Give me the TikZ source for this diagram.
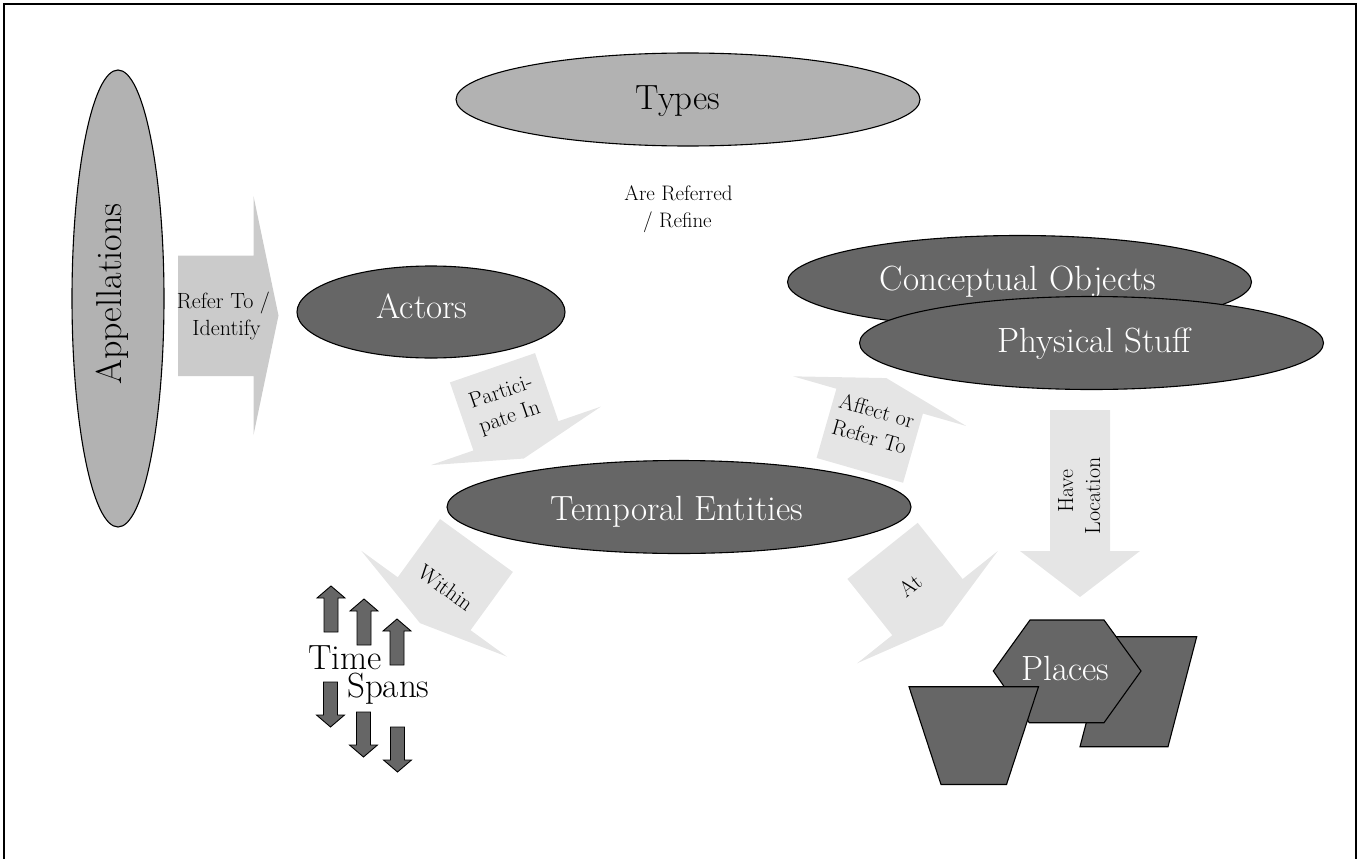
\documentclass[tikz,border=0pt]{standalone}
\usepackage{fontspec}
\usetikzlibrary{shapes.geometric}

\definecolor{lightnode}{HTML}{B2B2B2}
\definecolor{darknode}{HTML}{666666}
\definecolor{paleblock}{HTML}{E5E5E5}
\definecolor{midblock}{HTML}{CBCBCB}

\tikzset{
  ellbase/.style={ellipse, draw=black, line width=1.1pt, inner sep=0pt, outer sep=0pt},
  bigell/.style={ellbase, minimum width=464pt, minimum height=93pt},
  lightell/.style={fill=lightnode},
  darkell/.style={fill=darknode},
  bigtext/.style={font=\fontsize{35}{41}\selectfont, anchor=base, inner sep=0pt},
  whitetext/.style={bigtext, text=white},
  smalltext/.style={font=\fontsize{22}{27}\selectfont, anchor=base, inner sep=0pt},
  blockfill/.style={fill=paleblock},
  spanarrow/.style={fill=darknode, draw=black, line width=0.9pt},
  placeshape/.style={fill=darknode, draw=black, line width=1.1pt, line join=miter},
  flatarrow/.pic={\fill[blockfill] (-45,-36) -- (45,-36) -- (45,36) -- (90,36)
      -- (0,60) -- (-90,36) -- (-45,36) -- cycle;},
  spanup/.pic={\draw[spanarrow] (0,0) -- (14,12) -- (7,12) -- (7,46) -- (-7,46)
      -- (-7,12) -- (-14,12) -- cycle;},
  spandown/.pic={\draw[spanarrow] (0,0) -- (14,-12) -- (7,-12) -- (7,-45) -- (-7,-45)
      -- (-7,-12) -- (-14,-12) -- cycle;},
}

\begin{document}
\begin{tikzpicture}[x=1pt, y=-1pt]
\useasboundingbox (0,0) rectangle (1360,859);

% open frame
\draw[line width=1.3pt] (4,859) -- (4,4) -- (1356,4) -- (1356,859);

% Types
\node[bigell, lightell] (types) at (688,99.5) {};
\node[bigtext] (typeslbl) at (678,109.3) {Types};
\node[smalltext, font=\fontsize{21}{27}\selectfont] (refA) at (678.5,200.5) {Are Referred};
\node[smalltext, font=\fontsize{21}{27}\selectfont] (refB) at (677.5,227) {/ Refine};

% Appellations
\node[ellbase, lightell, minimum width=92pt, minimum height=457pt] (appel) at (118,298.5) {};
\node[bigtext, font=\fontsize{36}{42}\selectfont, rotate=90] (appellbl) at (121,294) {Appellations};

% Refer To / Identify
\fill[midblock] (178,255.5) -- (253.5,255.5) -- (253.5,196) -- (278.5,315.5)
  -- (253.5,435) -- (253.5,376) -- (178,376) -- cycle;
\node[smalltext] (identA) at (223.5,308) {Refer To /};
\node[smalltext] (identB) at (226.5,335) {Identify};

% Actors
\node[ellbase, darkell, minimum width=268pt, minimum height=92pt] (actors) at (431,312) {};
\node[whitetext] (actorslbl) at (422,318) {Actors};

% Participate In
\pic[rotate=19] at (504.2,401.8) {flatarrow};
\begin{scope}[shift={(504.2,401.8)}, rotate=19]
  \node[smalltext, rotate=19] (partA) at (0,-4) {Partici-};
  \node[smalltext, rotate=19] (partB) at (0,22.5) {pate In};
\end{scope}

% Conceptual Objects / Physical Stuff
\node[bigell, darkell] (concept) at (1019.5,282) {};
\node[whitetext] (conceptlbl) at (1018,290) {Conceptual Objects};
\node[bigell, darkell] (physical) at (1091.5,343) {};
\node[whitetext] (physicallbl) at (1094.5,352) {Physical Stuff};

% Affect or Refer To
\pic[rotate=164] at (869.75,435.75) {flatarrow};
\begin{scope}[shift={(869.75,435.75)}, rotate=-16]
  \node[smalltext, rotate=-16] (affA) at (0,-18.5) {Affect or};
  \node[smalltext, rotate=-16] (affB) at (0,8.5) {Refer To};
\end{scope}

% Temporal Entities
\node[bigell, darkell] (temporal) at (679,507) {};
\node[whitetext] (temporallbl) at (676.7,520) {Temporal Entities};

% Within
\pic[rotate=-36] at (455.3,574.6) {flatarrow};
\begin{scope}[shift={(455.3,574.6)}, rotate=-36]
  \node[smalltext, rotate=-36] (within) at (0,24) {Within};
\end{scope}

% At
\pic[rotate=38.6] at (905,579) {flatarrow};
\begin{scope}[shift={(905,579)}, rotate=38.6]
  \node[smalltext, rotate=38.6] (at) at (0,16) {At};
\end{scope}

% Have Location
\fill[blockfill] (1050,410) -- (1110,410) -- (1110,551) -- (1140,551) -- (1080,597)
  -- (1020,551) -- (1050,551) -- cycle;
\node[smalltext, rotate=90] (haveA) at (1073,491) {Have};
\node[smalltext, rotate=90] (haveB) at (1100,496) {Location};

% Time Spans
\pic at (331,586) {spanup};
\pic at (364,599) {spanup};
\pic at (397,619) {spanup};
\pic at (330.5,727) {spandown};
\pic at (363.5,757) {spandown};
\pic at (397.5,772) {spandown};
\node[bigtext, anchor=base west] (timelbl) at (308,669) {Time};
\node[bigtext, anchor=base west] (spanslbl) at (347,697) {Spans};

% Places
\draw[placeshape] (1108.7,636.7) -- (1196.7,636.7) -- (1168,746.7) -- (1080,746.7) -- cycle;
\draw[placeshape] (1030,620) -- (1104,620) -- (1141,671) -- (1104,722.7)
  -- (1029.3,722.7) -- (993.3,671) -- cycle;
\node[whitetext] (places) at (1065.5,680) {Places};
\draw[placeshape] (909,686.7) -- (1038.5,686.7) -- (1006.5,784.5) -- (941,784.5) -- cycle;
\end{tikzpicture}
\end{document}
